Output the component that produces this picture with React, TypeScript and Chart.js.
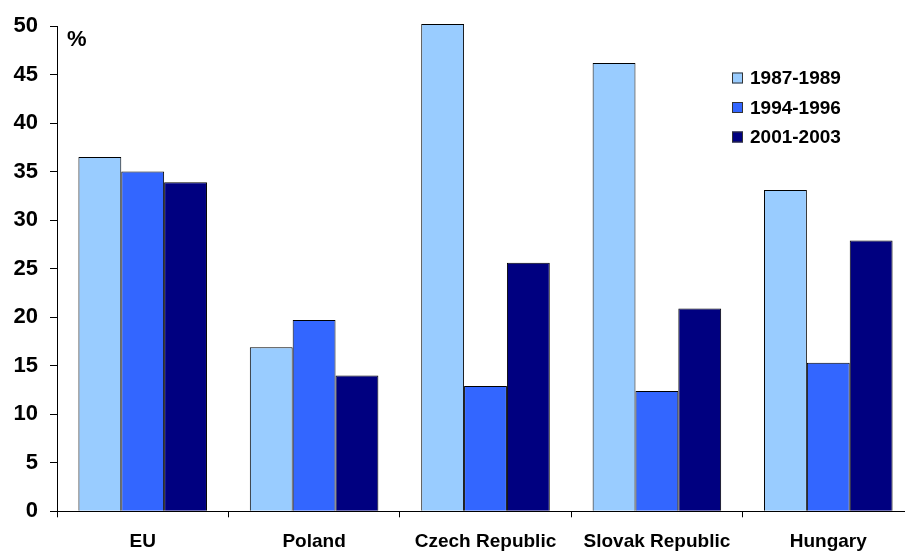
import React, { useEffect, useRef } from "react";
import { Chart, registerables } from "chart.js";

Chart.register(...registerables);

const categories = ["EU", "Poland", "Czech Republic", "Slovak Republic", "Hungary"];
const seriesLabels = ["1987-1989", "1994-1996", "2001-2003"];
const values8789 = [36.5, 16.9, 50.2, 46.2, 33.1];
const values9496 = [35.0, 19.7, 12.9, 12.4, 15.3];
const values0103 = [33.9, 14.0, 25.6, 20.9, 27.9];
const seriesColors = ["#99CCFF", "#3366FF", "#000080"];
const yMin = 0;
const yMax = 50;
const yStep = 5;
const unitLabel = "%";

const FONT = "'Liberation Sans', Arial, sans-serif";

const overlayPlugin = {
  id: "overlay",
  afterDraw(chart: any) {
    const ctx = chart.ctx;
    const area = chart.chartArea;
    ctx.save();
    // unit label
    ctx.fillStyle = "#000";
    ctx.font = `bold 22px ${FONT}`;
    ctx.textAlign = "left";
    ctx.textBaseline = "middle";
    ctx.fillText(unitLabel, area.left + 10, 40);
    // legend
    const ds = chart.data.datasets;
    ctx.font = `bold 19px ${FONT}`;
    for (let i = 0; i < ds.length; i++) {
      const cy = 78 + i * 29.5;
      const bx = 732;
      ctx.fillStyle = ds[i].backgroundColor;
      ctx.fillRect(bx, cy - 5.5, 11, 11);
      ctx.strokeStyle = "#333";
      ctx.lineWidth = 1;
      ctx.strokeRect(bx + 0.5, cy - 5, 10, 10);
      ctx.fillStyle = "#000";
      ctx.textBaseline = "middle";
      ctx.fillText(ds[i].label, 750, cy + 1);
    }
    ctx.restore();
  },
};

export default function App() {
  const ref = useRef<HTMLCanvasElement | null>(null);

  useEffect(() => {
    if (!ref.current) return;
    const series = [values8789, values9496, values0103];
    const chart = new Chart(ref.current, {
      type: "bar",
      data: {
        labels: categories,
        datasets: series.map((data, i) => ({
          label: seriesLabels[i],
          data,
          backgroundColor: seriesColors[i],
          borderColor: "#000",
          borderWidth: 1,
          barPercentage: 1,
          categoryPercentage: 0.75,
          clip: false,
        })),
      },
      options: {
        responsive: false,
        animation: false,
        devicePixelRatio: 1,
        layout: { padding: { top: 26, left: 0, right: 0, bottom: 0 } },
        plugins: {
          legend: { display: false },
          tooltip: { enabled: false },
        },
        scales: {
          x: {
            afterFit: (s: any) => {
              s.height = 40.7;
            },
            grid: {
              display: true,
              offset: true,
              drawOnChartArea: false,
              drawTicks: true,
              tickLength: 6,
              color: "#000",
              lineWidth: 1,
            },
            border: { display: true, color: "#000", width: 1 },
            ticks: {
              color: "#000",
              font: { family: FONT, size: 19, weight: "bold" },
              padding: 13,
              maxRotation: 0,
              autoSkip: false,
            },
          },
          y: {
            min: yMin,
            max: yMax,
            afterFit: (s: any) => {
              s.width = 57;
            },
            grid: {
              display: true,
              drawOnChartArea: false,
              drawTicks: true,
              tickLength: 7,
              color: "#000",
              lineWidth: 1,
            },
            border: { display: true, color: "#000", width: 1 },
            ticks: {
              stepSize: yStep,
              color: "#000",
              font: { family: FONT, size: 22, weight: "bold" },
              padding: 12,
            },
          },
        },
      },
      plugins: [overlayPlugin],
    } as any);
    return () => chart.destroy();
  }, []);

  return (
    <div
      style={{
        position: "fixed",
        left: 0,
        top: 0,
        width: 905,
        height: 552,
        overflow: "hidden",
        background: "#fff",
      }}
    >
      <canvas ref={ref} width={914} height={552} style={{ display: "block" }} />
    </div>
  );
}
